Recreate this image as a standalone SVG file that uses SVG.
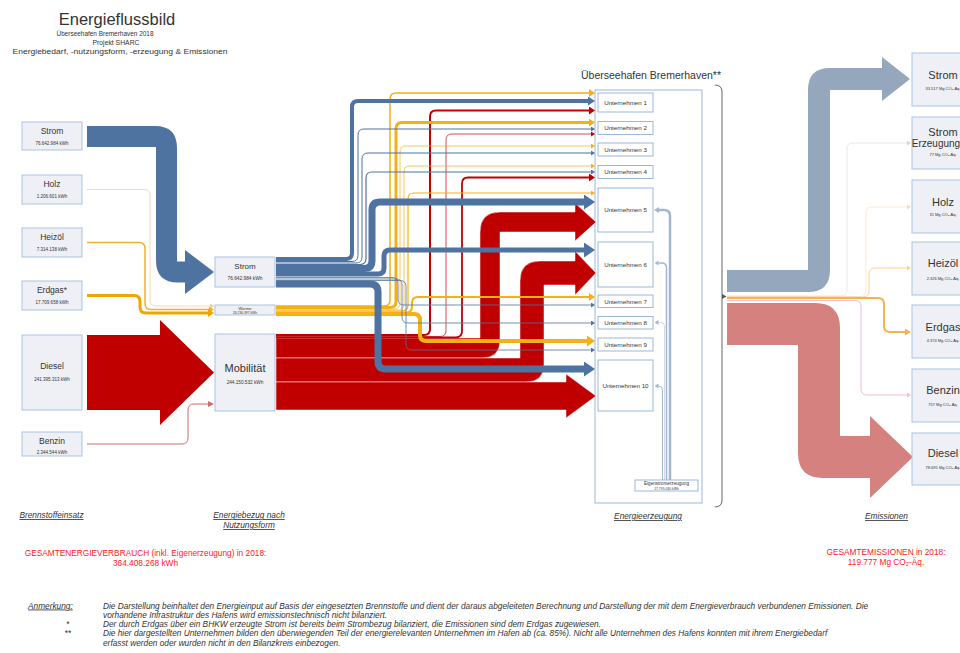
<svg xmlns="http://www.w3.org/2000/svg" width="960" height="653" viewBox="0 0 960 653">
<defs>
<style>
text{font-family:"Liberation Sans",Arial,sans-serif;fill:#333}
.box{fill:#eef0f6;stroke:#a9c3e2;stroke-width:1}
.cbox{fill:#fff;stroke:#9bb8da;stroke-width:1}
.lbl{font-size:8.5px;text-anchor:middle}
.val{font-size:4.5px;text-anchor:middle}
.elbl{font-size:11px;text-anchor:middle}
.eval{font-size:4px;text-anchor:middle}
.ulbl{font-size:6.2px;text-anchor:middle}
.cap{font-size:8.3px;font-style:italic;text-decoration:underline;text-anchor:middle}
.note{font-size:8.3px;font-style:italic}
.red{fill:#ff2020;font-size:8.3px;text-anchor:middle}
.sub{text-anchor:middle}
.fl{fill:none}
.b{stroke:#4e73a0}
.y{stroke:#f5b014}
.r{stroke:#c00000}
.f{stroke:#a4b7d0}
</style>
<marker id="bs" markerUnits="userSpaceOnUse" markerWidth="4" markerHeight="5" refX="0" refY="2.5" orient="auto"><path d="M0,0L4,2.5L0,5z" fill="#4e73a0"/></marker>
<marker id="bm" markerUnits="userSpaceOnUse" markerWidth="7" markerHeight="9" refX="0" refY="4.5" orient="auto"><path d="M0,0L7,4.5L0,9z" fill="#4e73a0"/></marker>
<marker id="bl" markerUnits="userSpaceOnUse" markerWidth="11" markerHeight="15" refX="0" refY="7.5" orient="auto"><path d="M0,0L11,7.5L0,15z" fill="#4e73a0"/></marker>
<marker id="ys" markerUnits="userSpaceOnUse" markerWidth="4" markerHeight="5" refX="0" refY="2.5" orient="auto"><path d="M0,0L4,2.5L0,5z" fill="#f5b014"/></marker>
<marker id="ym" markerUnits="userSpaceOnUse" markerWidth="6" markerHeight="8" refX="0" refY="4" orient="auto"><path d="M0,0L6,4L0,8z" fill="#f5b014"/></marker>
<marker id="yl" markerUnits="userSpaceOnUse" markerWidth="8" markerHeight="11" refX="0" refY="5.5" orient="auto"><path d="M0,0L8,5.5L0,11z" fill="#f5b014"/></marker>
<marker id="rs" markerUnits="userSpaceOnUse" markerWidth="4" markerHeight="5" refX="0" refY="2.5" orient="auto"><path d="M0,0L4,2.5L0,5z" fill="#c00000"/></marker>
<marker id="rm" markerUnits="userSpaceOnUse" markerWidth="6" markerHeight="8" refX="0" refY="4" orient="auto"><path d="M0,0L6,4L0,8z" fill="#c00000"/></marker>
<marker id="fm" markerUnits="userSpaceOnUse" markerWidth="5" markerHeight="6" refX="0" refY="3" orient="auto"><path d="M0,0L5,3L0,6z" fill="#a4b7d0"/></marker>
<marker id="fs" markerUnits="userSpaceOnUse" markerWidth="4" markerHeight="5" refX="0" refY="2.5" orient="auto"><path d="M0,0L4,2.5L0,5z" fill="#a4b7d0"/></marker>
<marker id="wh" markerUnits="userSpaceOnUse" markerWidth="4" markerHeight="5" refX="0" refY="2.5" orient="auto"><path d="M0,0L4,2.5L0,5z" fill="#f2cfa0"/></marker>
<marker id="wo" markerUnits="userSpaceOnUse" markerWidth="5" markerHeight="6" refX="0" refY="3" orient="auto"><path d="M0,0L5,3L0,6z" fill="#f3b02a"/></marker>
<marker id="we" markerUnits="userSpaceOnUse" markerWidth="6" markerHeight="8" refX="0" refY="4" orient="auto"><path d="M0,0L6,4L0,8z" fill="#f0a500"/></marker>
<marker id="bz" markerUnits="userSpaceOnUse" markerWidth="6" markerHeight="6" refX="0" refY="3" orient="auto"><path d="M0,0L6,3L0,6z" fill="#d46a6a"/></marker>
<marker id="eo" markerUnits="userSpaceOnUse" markerWidth="6" markerHeight="7" refX="0" refY="3.5" orient="auto"><path d="M0,0L6,3.5L0,7z" fill="#f7b24e"/></marker>
<marker id="eh" markerUnits="userSpaceOnUse" markerWidth="4" markerHeight="5" refX="0" refY="2.5" orient="auto"><path d="M0,0L4,2.5L0,5z" fill="#fbd294"/></marker>
<marker id="ep" markerUnits="userSpaceOnUse" markerWidth="4" markerHeight="5" refX="0" refY="2.5" orient="auto"><path d="M0,0L4,2.5L0,5z" fill="#f1bfc6"/></marker>
<marker id="eg" markerUnits="userSpaceOnUse" markerWidth="4" markerHeight="5" refX="0" refY="2.5" orient="auto"><path d="M0,0L4,2.5L0,5z" fill="#d6d6e0"/></marker>
<marker id="ew" markerUnits="userSpaceOnUse" markerWidth="4" markerHeight="5" refX="0" refY="2.5" orient="auto"><path d="M0,0L4,2.5L0,5z" fill="#f7dcbc"/></marker>
</defs>
<rect x="0" y="0" width="960" height="653" fill="#fff"/>

<g id="title">
<text x="117" y="25" style="font-size:16.5px;text-anchor:middle">Energieflussbild</text>
<text class="sub" x="105" y="35.5" style="font-size:7px" textLength="97" lengthAdjust="spacingAndGlyphs">Überseehafen Bremerhaven 2018</text>
<text class="sub" x="116" y="44.5" style="font-size:7px" textLength="47" lengthAdjust="spacingAndGlyphs">Projekt SHARC</text>
<text class="sub" x="120" y="53.5" style="font-size:7.5px" textLength="215" lengthAdjust="spacingAndGlyphs">Energiebedarf, -nutzungsform, -erzeugung &amp; Emissionen</text>
</g>

<g id="hafen-container">
<rect class="cbox" x="595" y="90" width="107" height="413"/>
<text x="651" y="79" style="font-size:10.5px;text-anchor:middle">Überseehafen Bremerhaven**</text>
<path d="M715,85 Q722,85 722,92 V500 Q722,507 715,507" fill="none" stroke="#666" stroke-width="1"/>
<path d="M722,294 L726.5,296.5 L722,299 Z" fill="#555"/>
</g>

<g id="connectors">
<path fill="#4e73a0" d="M87,126 H155 Q177,126 177,148 V261.5 H185 V250 L214,272 L185,294 V282.5 H178 Q156,282.5 156,260.5 V147 H87 Z"/>
<path class="fl" stroke="#f2cfa0" stroke-width="0.8" marker-end="url(#wh)" d="M87,189.5 H144 Q150,189.5 150,195.5 V300 Q150,306 156,306 H210"/>
<path class="fl" stroke="#f3b02a" stroke-width="1.5" marker-end="url(#wo)" d="M87,242.5 H139 Q145,242.5 145,248.5 V303.5 Q145,309.5 151,309.5 H209"/>
<path class="fl" stroke="#f0a500" stroke-width="3" marker-end="url(#we)" d="M87,295.5 H134 Q140,295.5 140,301.5 V307 Q140,313 146,313 H208"/>
<path fill="#c00000" d="M87,335 H160 V320 L214,372.5 L160,425 V410 H87 Z"/>
<path class="fl" stroke="#d46a6a" stroke-width="1" marker-end="url(#bz)" d="M87,444 H182 Q188,444 188,438 V410 Q188,404 194,404 H208"/>

<path fill="#c00000" stroke="#fff" stroke-width="0.5" d="M276,338 H480 V232 Q480,212 500,212 H575 V203 L596,222 L575,241 V232 H500 V340 Q500,358 482,358 H276 Z"/>
<path fill="#c00000" stroke="#fff" stroke-width="0.5" d="M276,358 H520 V281 Q520,261 540,261 H575 V251 L596,273 L575,295 V285 H544 V364 Q544,382 526,382 H276 Z"/>
<path fill="#c00000" stroke="#fff" stroke-width="0.5" d="M276,382 H566 V374 L596,396 L566,418 V410 H276 Z"/>

<path class="fl r" stroke-width="2" marker-end="url(#rm)" d="M276,335 H424 Q430,335 430,329 V116.5 Q430,110.5 436,110.5 H589"/>
<path class="fl r" stroke-width="0.7" marker-end="url(#rs)" d="M276,336.5 H440 Q446,336.5 446,330.5 V140 Q446,134 452,134 H591"/>
<path class="fl r" stroke-width="1.8" marker-end="url(#rm)" d="M276,337.3 H456 Q462,337.3 462,331.3 V183.5 Q462,177.5 468,177.5 H589"/>

<path class="fl y" stroke-width="1.5" marker-end="url(#ym)" d="M276,306 H384 Q390,306 390,300 V99 Q390,93 396,93 H589"/>
<path class="fl y" stroke-width="3" marker-end="url(#ym)" d="M276,307.5 H390 Q396,307.5 396,301.5 V128.5 Q396,122.5 402,122.5 H589"/>
<path class="fl y" stroke-width="0.7" marker-end="url(#ys)" d="M276,309 H394 Q400,309 400,303 V152 Q400,146 406,146 H591"/>
<path class="fl y" stroke-width="0.7" marker-end="url(#ys)" d="M276,310 H398 Q404,310 404,304 V172 Q404,166 410,166 H591"/>
<path class="fl y" stroke-width="1.2" marker-end="url(#ys)" d="M276,311 H402 Q408,311 408,305 V199 Q408,193 414,193 H591"/>
<path class="fl y" stroke-width="2" marker-end="url(#ym)" d="M276,312.5 H406 Q412,312.5 412,306.5 V303 Q412,297 418,297 H589"/>
<path class="fl y" stroke-width="4" marker-end="url(#yl)" d="M276,314 H414 Q420,314 420,320 V335 Q420,341 426,341 H587"/>

<path class="fl b" stroke-width="4" marker-end="url(#bm)" d="M276,259 H346 Q352,259 352,253 V107 Q352,101 358,101 H588"/>
<path class="fl b" stroke-width="1" marker-end="url(#bs)" d="M276,261.5 H352 Q358,261.5 358,255.5 V135 Q358,129 364,129 H591"/>
<path class="fl b" stroke-width="1" marker-end="url(#bs)" d="M276,263 H356 Q362,263 362,257 V159 Q362,153 368,153 H591"/>
<path class="fl b" stroke-width="1.2" marker-end="url(#bs)" d="M276,264.5 H360 Q366,264.5 366,258.5 V178 Q366,172 372,172 H591"/>
<path class="fl b" stroke-width="7" marker-end="url(#bl)" d="M276,268.5 H364 Q372,268.5 372,260.5 V210 Q372,202 380,202 H584"/>
<path class="fl b" stroke-width="5" marker-end="url(#bl)" d="M276,274 H378 Q384,274 384,268 V256 Q384,250 390,250 H584"/>
<path class="fl b" stroke-width="0.8" marker-end="url(#bs)" d="M276,277.5 H392 Q398,277.5 398,283.5 V299 Q398,305 404,305 H591"/>
<path class="fl b" stroke-width="0.8" marker-end="url(#bs)" d="M276,279 H396 Q402,279 402,285 V317 Q402,323 408,323 H591"/>
<path class="fl b" stroke-width="0.8" marker-end="url(#bs)" d="M276,280.5 H400 Q406,280.5 406,286.5 V344 Q406,350 412,350 H591"/>
<path class="fl b" stroke-width="7" marker-end="url(#bl)" d="M276,284 H370 Q378,284 378,292 V361 Q378,369 386,369 H584"/>

<path class="fl f" stroke-width="2.5" marker-end="url(#fm)" d="M670,480 V216 Q670,210 664,210 H659"/>
<path class="fl f" stroke-width="1.5" marker-end="url(#fs)" d="M666.5,480 V268 Q666.5,263 661.5,263 H658.5"/>
<path class="fl f" stroke-width="0.5" marker-end="url(#fs)" d="M664.5,480 V326 Q664.5,322.5 661,322.5 H658.5"/>
<path class="fl f" stroke-width="1" marker-end="url(#fs)" d="M662.5,480 V390 Q662.5,386 658.5,386"/>

<path fill="#94a7bd" d="M727,270 H808 V90 Q808,68 830,68 H882 V57 L910,79 L882,101 V90 H830 V270 Q830,292 808,292 H727 Z"/>
<path fill="#d4817f" d="M727,303 H815 Q840,303 840,328 V436 H870 V416 L913,457 L870,498 V478 H823 Q798,478 798,453 V345 H727 Z"/>
<path class="fl" stroke="#dcdce6" stroke-width="0.7" marker-end="url(#eg)" d="M727,296 H841 Q847,296 847,290 V149 Q847,143 853,143 H907"/>
<path class="fl" stroke="#f9e0c4" stroke-width="0.7" marker-end="url(#ew)" d="M727,296.5 H860 Q866,296.5 866,290.5 V213 Q866,207 872,207 H907"/>
<path class="fl" stroke="#fbd294" stroke-width="1" marker-end="url(#eh)" d="M727,297 H863 Q869,297 869,291 V274 Q869,268 875,268 H907"/>
<path class="fl" stroke="#f7b24e" stroke-width="2" marker-end="url(#eo)" d="M727,298 H878 Q884,298 884,304 V326 Q884,332 890,332 H905"/>
<path class="fl" stroke="#f1bfc6" stroke-width="1" marker-end="url(#ep)" d="M727,300.5 H855 Q861,300.5 861,306.5 V389 Q861,395 867,395 H907"/>
</g>

<g id="src-strom"><rect class="box" x="22" y="122" width="60" height="28"/><text class="lbl" x="52" y="134">Strom</text><text class="val" x="52" y="145">76.642.984 kWh</text></g>
<g id="src-holz"><rect class="box" x="22" y="175" width="60" height="29"/><text class="lbl" x="52" y="187">Holz</text><text class="val" x="52" y="198">1.206.601 kWh</text></g>
<g id="src-heizoel"><rect class="box" x="22" y="228" width="60" height="29"/><text class="lbl" x="52" y="240">Heizöl</text><text class="val" x="52" y="251">7.314.138 kWh</text></g>
<g id="src-erdgas"><rect class="box" x="22" y="281" width="60" height="29"/><text class="lbl" x="52" y="293">Erdgas*</text><text class="val" x="52" y="304">17.709.658 kWh</text></g>
<g id="src-diesel"><rect class="box" x="22" y="335" width="60" height="75"/><text class="lbl" x="52" y="369">Diesel</text><text class="val" x="52" y="381">241.395.313 kWh</text></g>
<g id="src-benzin"><rect class="box" x="22" y="432" width="60" height="24"/><text class="lbl" x="52" y="444">Benzin</text><text class="val" x="52" y="453.5">2.344.544 kWh</text></g>

<g id="use-strom"><rect class="box" x="215" y="257" width="60" height="30"/><text class="lbl" x="245" y="269" style="font-size:8px">Strom</text><text class="val" x="245" y="280" style="font-size:4.8px">76.642.984 kWh</text></g>
<g id="use-waerme"><rect class="box" x="215" y="305" width="60" height="10"/><text class="val" x="245" y="309.8" style="font-size:4px">Wärme</text><text class="val" x="245" y="314" style="font-size:3.3px">26.230.397 kWh</text></g>
<g id="use-mobilitaet"><rect class="box" x="215" y="334" width="60" height="77"/><text class="lbl" x="245" y="372" style="font-size:11px">Mobilität</text><text class="val" x="245" y="384" style="font-size:4.7px">244.150.532 kWh</text></g>

<g id="u1"><rect class="cbox" x="598" y="93" width="55" height="19"/><text class="ulbl" x="625.5" y="104.7">Unternehmen 1</text></g>
<g id="u2"><rect class="cbox" x="598" y="121.5" width="55" height="13"/><text class="ulbl" x="625.5" y="130.2">Unternehmen 2</text></g>
<g id="u3"><rect class="cbox" x="598" y="143" width="55" height="13"/><text class="ulbl" x="625.5" y="151.7">Unternehmen 3</text></g>
<g id="u4"><rect class="cbox" x="598" y="165.5" width="55" height="13"/><text class="ulbl" x="625.5" y="174.2">Unternehmen 4</text></g>
<g id="u5"><rect class="cbox" x="598" y="188" width="55" height="44"/><text class="ulbl" x="625.5" y="212.2">Unternehmen 5</text></g>
<g id="u6"><rect class="cbox" x="598" y="242" width="55" height="45"/><text class="ulbl" x="625.5" y="266.7">Unternehmen 6</text></g>
<g id="u7"><rect class="cbox" x="598" y="295" width="55" height="12.5"/><text class="ulbl" x="625.5" y="303.5">Unternehmen 7</text></g>
<g id="u8"><rect class="cbox" x="598" y="316.5" width="55" height="12.5"/><text class="ulbl" x="625.5" y="325">Unternehmen 8</text></g>
<g id="u9"><rect class="cbox" x="598" y="338" width="55" height="13"/><text class="ulbl" x="625.5" y="346.7">Unternehmen 9</text></g>
<g id="u10"><rect class="cbox" x="598" y="360" width="55" height="51"/><text class="ulbl" x="625.5" y="387.7">Unternehmen 10</text></g>
<g id="eigenstrom"><rect class="cbox" x="635" y="480" width="63" height="11"/><text class="val" x="666.5" y="485.3" style="font-size:4.6px">Eigenstromerzeugung</text><text class="val" x="666.5" y="489.8" style="font-size:3.4px">17.795.030 kWh</text></g>

<g id="em-strom"><rect class="box" x="912" y="53" width="62" height="53"/><text class="elbl" x="943" y="79">Strom</text><text class="eval" x="943" y="89.5">33.517 Mg CO₂-Äq.</text></g>
<g id="em-stromerz"><rect class="box" x="912" y="117" width="62" height="52"/><text class="elbl" x="943" y="135.5">Strom</text><text class="elbl" x="936" y="147" style="font-size:10px">Erzeugung</text><text class="eval" x="943" y="155.5">77 Mg CO₂-Äq.</text></g>
<g id="em-holz"><rect class="box" x="912" y="180" width="62" height="53"/><text class="elbl" x="943" y="205.5">Holz</text><text class="eval" x="943" y="215.5">31 Mg CO₂-Äq.</text></g>
<g id="em-heizoel"><rect class="box" x="912" y="242" width="62" height="53"/><text class="elbl" x="943" y="267">Heizöl</text><text class="eval" x="943" y="280">2.326 Mg CO₂-Äq.</text></g>
<g id="em-erdgas"><rect class="box" x="912" y="305" width="62" height="53"/><text class="elbl" x="943" y="330.5">Erdgas</text><text class="eval" x="943" y="342">4.374 Mg CO₂-Äq.</text></g>
<g id="em-benzin"><rect class="box" x="912" y="369" width="62" height="53"/><text class="elbl" x="943" y="394">Benzin</text><text class="eval" x="943" y="406">757 Mg CO₂-Äq.</text></g>
<g id="em-diesel"><rect class="box" x="912" y="433" width="62" height="52"/><text class="elbl" x="943" y="456.5">Diesel</text><text class="eval" x="943" y="468.5">78.695 Mg CO₂-Äq.</text></g>

<g id="captions">
<text class="cap" x="51.5" y="518">Brennstoffeinsatz</text>
<text class="cap" x="249" y="518">Energiebezug nach</text>
<text class="cap" x="249" y="528">Nutzungsform</text>
<text class="cap" x="648" y="519">Energieerzeugung</text>
<text class="cap" x="886.5" y="519">Emissionen</text>
<text class="red" x="145.5" y="556">GESAMTENERGIEVERBRAUCH (inkl. Eigenerzeugung) in 2018:</text>
<text class="red" x="145.5" y="566">364.408.268 kWh</text>
<text class="red" x="886" y="555">GESAMTEMISSIONEN in 2018:</text>
<text class="red" x="886" y="565">119.777 Mg CO₂-Äq.</text>
</g>

<g id="notes">
<text class="note" x="28" y="608.5" style="text-decoration:underline">Anmerkung:</text>
<text class="note" x="103" y="608.5">Die Darstellung beinhaltet den Energieinput auf Basis der eingesetzten Brennstoffe und dient der daraus abgeleiteten Berechnung und Darstellung der mit dem Energieverbrauch verbundenen Emissionen. Die</text>
<text class="note" x="103" y="617.5">vorhandene Infrastruktur des Hafens wird emissionstechnisch nicht bilanziert.</text>
<text class="note" x="66" y="626.5">*</text>
<text class="note" x="103" y="626.5">Der durch Erdgas über ein BHKW erzeugte Strom ist bereits beim Strombezug bilanziert, die Emissionen sind dem Erdgas zugewiesen.</text>
<text class="note" x="64.5" y="636">**</text>
<text class="note" x="103" y="636">Die hier dargestellten Unternehmen bilden den überwiegenden Teil der energierelevanten Unternehmen im Hafen ab (ca. 85%). Nicht alle Unternehmen des Hafens konnten mit ihrem Energiebedarf</text>
<text class="note" x="103" y="646">erfasst werden oder wurden nicht in den Bilanzkreis einbezogen.</text>
</g>
</svg>
